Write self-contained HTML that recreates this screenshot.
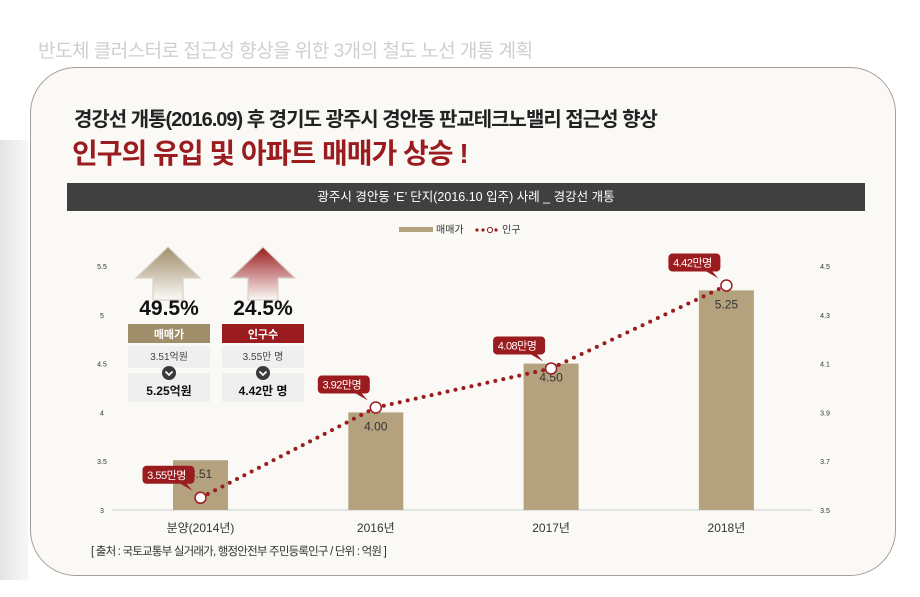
<!DOCTYPE html>
<html><head><meta charset="utf-8"><style>
body{margin:0;width:920px;height:597px;overflow:hidden;background:#fff;font-family:"Liberation Sans","Noto Sans CJK KR",sans-serif;position:relative}
.strip{position:absolute;left:0;top:140px;width:28px;height:440px;background:linear-gradient(90deg,#e4e4e4,#f7f7f7)}
.top{position:absolute;left:38px;top:36px;font-size:19px;color:#cfcfcf;letter-spacing:-0.5px}
.card{position:absolute;left:30px;top:67px;width:866px;height:509px;border:1.5px solid #a89c96;border-radius:46px;background:#faf9f6;box-sizing:border-box}
.t1{position:absolute;left:74px;top:103px;font-size:20px;font-weight:bold;color:#222;letter-spacing:-1px}
.t2{position:absolute;left:72px;top:132px;font-size:28px;font-weight:bold;color:#9b1c1f;letter-spacing:-1px}
.bar{position:absolute;left:67px;top:183px;width:798px;height:28px;background:#404040;color:#fff;font-size:12.5px;text-align:center;line-height:28px}
svg{position:absolute;left:0;top:0}
</style></head><body>
<div class="strip"></div>
<div class="top">반도체 클러스터로 접근성 향상을 위한 3개의 철도 노선 개통 계획</div>
<div class="card"></div>
<div class="t1">경강선 개통(2016.09) 후 경기도 광주시 경안동 판교테크노밸리 접근성 향상</div>
<div class="t2">인구의 유입 및 아파트 매매가 상승 !</div>
<div class="bar">광주시 경안동 ‘E’ 단지(2016.10 입주) 사례 _ 경강선 개통</div>
<svg id="c" width="920" height="597" font-family="Liberation Sans, Noto Sans CJK KR, sans-serif"></svg>
<script>
const categories=["분양(2014년)","2016년","2017년","2018년"];
const prices=[3.51,4.00,4.50,5.25];
const population=[3.55,3.92,4.08,4.42];
const popLabels=["3.55만명","3.92만명","4.08만명","4.42만명"];
const leftTicks=[3,3.5,4,4.5,5,5.5];
const rightTicks=[3.5,3.7,3.9,4.1,4.3,4.5];
const svg=document.getElementById('c');const NS='http://www.w3.org/2000/svg';
function el(t,a,txt){const e=document.createElementNS(NS,t);for(const k in a)e.setAttribute(k,a[k]);if(txt!==undefined)e.textContent=txt;svg.appendChild(e);return e;}
const y0=510,y1=266;
const yL=v=>y0-(v-3)/(2.5)*(y0-y1);
const yR=v=>y0-(v-3.5)/(1.0)*(y0-y1);
const xC=i=>200.5+i*175.3;
let e;
e=el('line',{x1:112,x2:812,y1:y0,y2:y0,stroke:'#ddd','stroke-width':1.5});


leftTicks.forEach(v=>{e=el('text',{x:102,y:yL(v)+3,'font-size':7,fill:'#333','text-anchor':'middle'},String(v));

});
rightTicks.forEach(v=>{e=el('text',{x:825,y:yR(v)+3,'font-size':7,fill:'#333','text-anchor':'middle'},v.toFixed(1));

});
prices.forEach((v,i)=>{e=el('rect',{x:xC(i)-27.5,y:yL(v),width:55,height:y0-yL(v),fill:'#b4a27f'});


e=el('text',{x:xC(i),y:yL(v)+18,'font-size':12,fill:'#333','text-anchor':'middle'},v.toFixed(2));


e=el('text',{x:xC(i),y:532,'font-size':12,fill:'#333','text-anchor':'middle'},categories[i]);

});
for(let i=0;i<population.length-1;i++){const ax=xC(i),ay=yR(population[i]),bx=xC(i+1),by=yR(population[i+1]);const d=Math.hypot(bx-ax,by-ay),n=Math.round(d/8.3);
for(let k=1;k<n;k++){e=el('circle',{cx:ax+(bx-ax)*k/n,cy:ay+(by-ay)*k/n,r:2,fill:'#9b1c1f'});

}}
population.forEach((v,i)=>{const x=xC(i),y=yR(v);
e=el('circle',{cx:x,cy:y,r:5.5,fill:'#fff',stroke:'#9b1c1f','stroke-width':1.5});


const rx=x-62,ry=y-32;
e=el('path',{d:`M${rx+4} ${ry}h48a4 4 0 0 1 4 4v10a4 4 0 0 1-4 4h-4l6 7-12-7h-34a4 4 0 0 1-4-4v-10a4 4 0 0 1 4-4z`,fill:'#9b1c1f'});


e=el('text',{x:rx+28,y:ry+13,'font-size':11,fill:'#fff','text-anchor':'middle','letter-spacing':'-0.5'},popLabels[i]);

});
e=el('rect',{x:399,y:227,width:34,height:5,fill:'#b4a27f'});
e=el('text',{x:436,y:233,'font-size':10,fill:'#333'},'매매가');
[477,483,496].forEach(cx=>{e=el('circle',{cx:cx,cy:230,r:1.6,fill:'#9b1c1f'});});
e=el('circle',{cx:490,cy:230,r:2.6,fill:'#fff',stroke:'#9b1c1f'});
e=el('text',{x:502,y:233,'font-size':10,fill:'#333'},'인구');
function arrow(cx,c1,id){const g=el('linearGradient',{id:id,x1:0,y1:0,x2:0,y2:1});
const s1=document.createElementNS(NS,'stop');s1.setAttribute('offset','0');s1.setAttribute('stop-color',c1);g.appendChild(s1);
const s2=document.createElementNS(NS,'stop');s2.setAttribute('offset','1');s2.setAttribute('stop-color','#faf9f6');g.appendChild(s2);
return el('path',{d:`M${cx} 247l-32 31h17v22h30v-22h17z`,fill:`url(#${id})`,stroke:'#d8d2c8','stroke-width':1.2});}
e=arrow(168,'#a08d6a','g1');
e=arrow(263,'#9b1c1f','g2');
function box(cx,pct,head,hc,a,b,nm){
e=el('text',{x:cx,y:315,'font-size':21,'font-weight':'bold',fill:'#111','text-anchor':'middle'},pct);
e=el('rect',{x:cx-41,y:324,width:82,height:19,fill:hc});
e=el('text',{x:cx,y:338,'font-size':11,'font-weight':'bold',fill:'#fff','text-anchor':'middle'},head);
e=el('rect',{x:cx-41,y:346,width:82,height:22,fill:'#efefef',rx:2});
e=el('text',{x:cx,y:360,'font-size':10,fill:'#444','text-anchor':'middle'},a);
e=el('rect',{x:cx-41,y:373,width:82,height:29,fill:'#efefef',rx:2});
e=el('circle',{cx:cx,cy:373,r:7,fill:'#3a3a3a'});
e=el('path',{d:`M${cx-3.5} 371.5l3.5 3.5 3.5-3.5`,stroke:'#fff','stroke-width':1.8,fill:'none'});
e=el('text',{x:cx,y:395,'font-size':12,'font-weight':'bold',fill:'#111','text-anchor':'middle'},b);}
box(169,'49.5%','매매가','#a08d6a','3.51억원','5.25억원','price');
box(263,'24.5%','인구수','#9b1c1f','3.55만 명','4.42만 명','pop');
e=el('text',{x:91,y:555,'font-size':11.5,fill:'#333','letter-spacing':'-0.8'},'[ 출처 : 국토교통부 실거래가, 행정안전부 주민등록인구 / 단위 : 억원 ]');


</script>
</body></html>
